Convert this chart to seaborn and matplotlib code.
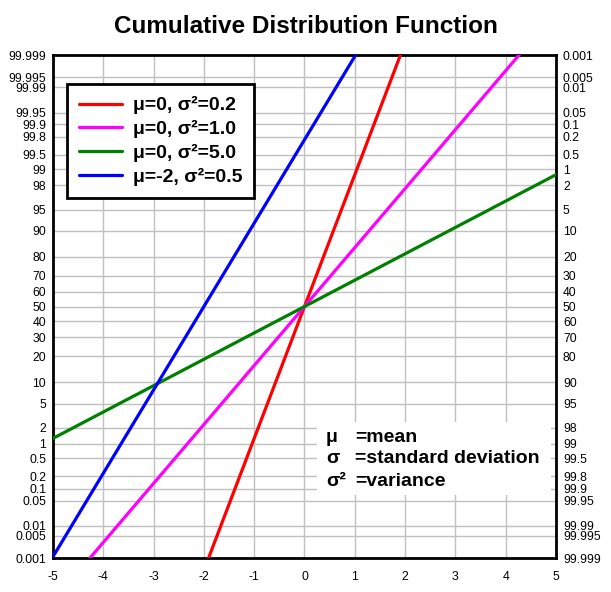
import matplotlib
matplotlib.use("Agg")
import matplotlib.pyplot as plt
import seaborn as sns
import pandas as pd
from statistics import NormalDist
from matplotlib.patches import Rectangle

# ---- data ----
labels = ["μ=0, σ²=0.2", "μ=0, σ²=1.0", "μ=0, σ²=5.0", "μ=-2, σ²=0.5"]
mus = [0.0, 0.0, 0.0, -2.0]
variances = [0.2, 1.0, 5.0, 0.5]
colors = ["#FF0000", "#FF00FF", "#008000", "#0000FF"]
x_range = [-5.0, 5.0]
x_ticks = [-5, -4, -3, -2, -1, 0, 1, 2, 3, 4, 5]
left_tick_labels = ["0.001", "0.005", "0.01", "0.05", "0.1", "0.2", "0.5", "1", "2", "5",
                    "10", "20", "30", "40", "50", "60", "70", "80", "90", "95", "98", "99",
                    "99.5", "99.8", "99.9", "99.95", "99.99", "99.995", "99.999"]
right_tick_labels = ["99.999", "99.995", "99.99", "99.95", "99.9", "99.8", "99.5", "99", "98",
                     "95", "90", "80", "70", "60", "50", "40", "30", "20", "10", "5", "2", "1",
                     "0.5", "0.2", "0.1", "0.05", "0.01", "0.005", "0.001"]

nd = NormalDist()
def probit(p):
    return nd.inv_cdf(p / 100.0)

tick_pos = [probit(float(s)) for s in left_tick_labels]
ylo, yhi = tick_pos[0], tick_pos[-1]

rows = []
for lab, mu, var in zip(labels, mus, variances):
    sd = var ** 0.5
    for x in x_range:
        rows.append({"x": x, "z": (x - mu) / sd, "series": lab})
df = pd.DataFrame(rows)

sns.set_style("white")
plt.rcParams['font.family'] = ['Liberation Sans', 'DejaVu Sans']
plt.rcParams.update({"text.color": "black", "axes.labelcolor": "black",
                     "xtick.color": "black", "ytick.color": "black",
                     "axes.edgecolor": "black"})

fig = plt.figure(figsize=(6.11, 5.92), dpi=100)
ax = fig.add_axes([0.0867, 0.0574, 0.8233, 0.8496])

for lab, col in zip(labels, colors):
    sub = df[df["series"] == lab]
    sns.lineplot(data=sub, x="x", y="z", color=col, linewidth=2.3, label=lab, ax=ax,
                 zorder=3, sort=False)

ax.set_xlim(-5, 5)
ax.set_ylim(ylo, yhi)
ax.set_xticks(x_ticks)
ax.set_xticklabels([str(t) for t in x_ticks])
ax.set_yticks(tick_pos)
ax.set_yticklabels(left_tick_labels)
ax.set_xlabel("")
ax.set_ylabel("")
ax.grid(True, color="#c0c0c0", linewidth=1.0, zorder=0)
ax.set_axisbelow(True)
ax.tick_params(axis="both", length=0, labelsize=8.8, labelcolor="black")
ax.tick_params(axis="y", pad=5)
ax.tick_params(axis="x", pad=9)
for s in ax.spines.values():
    s.set_color("black")
    s.set_linewidth(2)

ax2 = ax.twinx()
ax2.set_ylim(ylo, yhi)
ax2.set_yticks(tick_pos)
ax2.set_yticklabels(right_tick_labels)
ax2.tick_params(axis="y", length=0, labelsize=8.8, pad=5, labelcolor="black")
for s in ax2.spines.values():
    s.set_visible(False)

leg = ax.legend(loc="upper left", bbox_to_anchor=(0.028, 0.942), borderaxespad=0,
                frameon=True, fancybox=False, edgecolor="black", framealpha=1,
                prop={"weight": "bold", "size": 14}, handlelength=2.2,
                handletextpad=0.55, labelspacing=0.3, borderpad=0.62)
leg.get_frame().set_linewidth(2)
for t in leg.get_texts():
    t.set_color("black")

ax.add_patch(Rectangle((0.525, 0.125), 0.465, 0.145, transform=ax.transAxes,
                       facecolor="white", edgecolor="none", zorder=2))
syms = ["μ", "σ", "σ²"]
descs = ["=mean", "=standard deviation", "=variance"]
ys = [0.2406, 0.197, 0.153]
for sym, d, yy in zip(syms, descs, ys):
    ax.text(0.543, yy, sym, transform=ax.transAxes, fontsize=14, fontweight="bold",
            va="center", ha="left", zorder=4, color="black")
    ax.text(0.600, yy, d, transform=ax.transAxes, fontsize=14, fontweight="bold",
            va="center", ha="left", zorder=4, color="black")

fig.text(0.5, 0.955, "Cumulative Distribution Function", ha="center", va="center",
         fontsize=17.5, fontweight="bold", color="black")

fig.savefig("out.png", dpi=100)
